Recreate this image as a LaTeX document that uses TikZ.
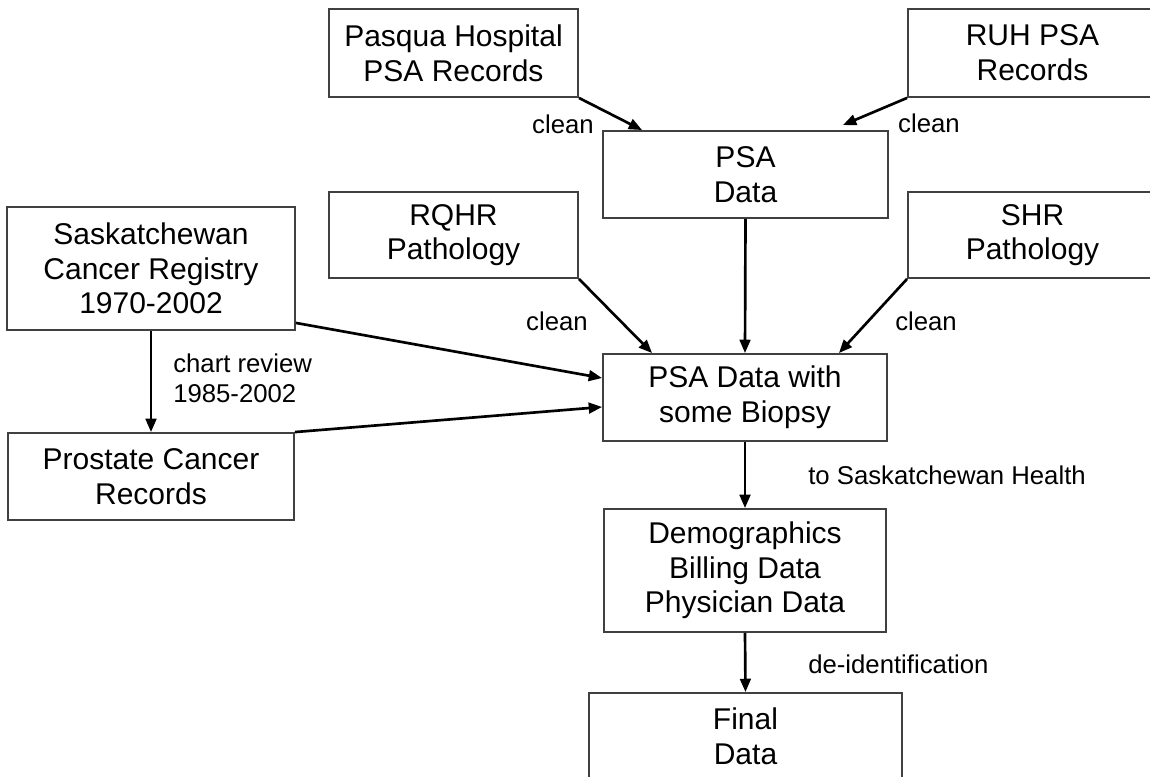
\documentclass[tikz,border=0pt]{standalone}
\usepackage{fontspec}
\setmainfont{Liberation Sans}
\usetikzlibrary{arrows.meta}
\begin{document}
\begin{tikzpicture}[x=0.75pt,y=-0.75pt,
  box/.style={draw=black!75, line width=1.4pt, rectangle, align=center, inner sep=0pt, font=\fontsize{22.5}{26}\selectfont},
  lbl/.style={font=\fontsize{19.3}{22.5}\selectfont, inner sep=0pt, align=left},
  arr/.style={line width=2pt, -{Triangle[length=10pt,width=8pt]}}]
\clip (0,0) rectangle (1150,777);
\fill[white] (0,0) rectangle (1150,777);
% boxes
\node[box, minimum width=186.75pt, minimum height=66pt] (pasqua) at (453.5,53) {Pasqua Hospital\\PSA Records};
\node[box, minimum width=186.75pt, minimum height=66pt] (ruh) at (1032.5,53) {RUH PSA\\Records};
\node[box, minimum width=213.75pt, minimum height=65.25pt] (psa) at (745.5,174.5) {PSA\\Data};
\node[box, minimum width=186.75pt, minimum height=64.5pt] (rqhr) at (453.5,235) {RQHR\\Pathology};
\node[box, minimum width=186.75pt, minimum height=64.5pt] (shr) at (1032.5,235) {SHR\\Pathology};
\node[box, minimum width=216pt, minimum height=92.25pt] (sask) at (151,268.5) {Saskatchewan\\Cancer Registry\\1970-2002};
\node[box, minimum width=213pt, minimum height=65.25pt] (biopsy) at (745,397.5) {PSA Data with\\some Biopsy};
\node[box, minimum width=214.5pt, minimum height=65.25pt] (prostate) at (151,476.5) {Prostate Cancer\\Records};
\node[box, minimum width=211.5pt, minimum height=92.25pt] (demo) at (745,570.5) {Demographics\\Billing Data\\Physician Data};
\node[box, minimum width=234.75pt, minimum height=64.5pt] (final) at (745.5,736) {Final\\Data};
% labels
\node[lbl] (l1) at (563,124) {clean};
\node[lbl] (l2) at (929,123) {clean};
\node[lbl] (l3) at (557,321) {clean};
\node[lbl] (l4) at (926,321) {clean};
\node[lbl, anchor=west] (l5) at (173,378) {chart review\\1985-2002};
\node[lbl, anchor=west] (l6) at (808,475) {to Saskatchewan Health};
\node[lbl, anchor=west] (l7) at (808,664) {de-identification};
% connectors
\draw[arr] (pasqua.south east) -- ([xshift=30pt]psa.north west);
\draw[arr] (ruh.south west) -- ([xshift=-34.5pt,yshift=3.75pt]psa.north east);
\draw[arr] (rqhr.south east) -- ([xshift=37.5pt]biopsy.north west);
\draw[arr] (shr.south west) -- ([xshift=-36.75pt]biopsy.north east);
\draw[arr] (psa.south) -- (biopsy.north);
\draw[arr] ([yshift=6pt]sask.south east) -- ([yshift=14.6pt]biopsy.west);
\draw[arr] (prostate.north east) -- ([yshift=-7.1pt]biopsy.west);
\draw[arr] (sask.south) -- (prostate.north);
\draw[arr] (biopsy.south) -- (demo.north);
\draw[arr] (demo.south) -- (final.north);
\end{tikzpicture}
\end{document}
